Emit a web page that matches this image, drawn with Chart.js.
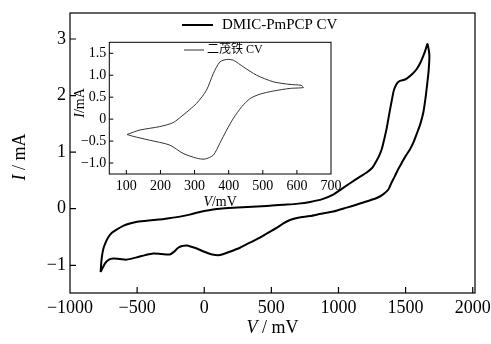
<!DOCTYPE html>
<html>
<head>
<meta charset="utf-8">
<script src="https://cdn.jsdelivr.net/npm/chart.js@4/dist/chart.umd.min.js"></script>
<style>
  body { margin: 0; background: #fff; }
  #wrap { position: relative; width: 491px; height: 344px; }
  #mainChart { position: absolute; left: 0; top: 0; }
  #insetChart { position: absolute; left: 60px; top: 32px; }
</style>
</head>
<body>
<div id="wrap">
  <canvas id="mainChart" width="491" height="344"></canvas>
  <canvas id="insetChart" width="285" height="180"></canvas>
</div>
<script>
// DMIC-PmPCP CV loop (V in mV, I in mA)
const mainV = [
  -772, -765, -753, -735, -716, -690, -653, -600, -554, -500, -380, -300, -181, -100, -57, 0, 117, 250, 465, 589,
  700, 788, 880, 961, 1011, 1086, 1150, 1210, 1250, 1272, 1300, 1322, 1340, 1359, 1380, 1396, 1410, 1421, 1440, 1458,
  1490, 1508, 1550, 1583, 1610, 1632, 1650, 1663, 1677, 1672, 1662, 1648, 1632, 1610, 1587, 1560, 1533, 1500, 1471, 1445,
  1421, 1395, 1372, 1330, 1285, 1185, 1061, 961, 870, 788, 700, 639, 590, 539, 480, 415, 340, 266, 190, 117,
  60, 0, -60, -131, -165, -194, -225, -256, -320, -380, -440, -504, -578, -630, -678, -710, -740, -772
];
const mainI = [
  -1.12, -0.90, -0.72, -0.60, -0.51, -0.43, -0.37, -0.30, -0.26, -0.23, -0.20, -0.18, -0.14, -0.10, -0.07, -0.04, 0.00, 0.02, 0.05, 0.07,
  0.09, 0.12, 0.17, 0.25, 0.33, 0.45, 0.55, 0.64, 0.72, 0.80, 0.92, 1.05, 1.22, 1.42, 1.70, 1.90, 2.07, 2.15, 2.23, 2.26,
  2.28, 2.30, 2.38, 2.47, 2.58, 2.70, 2.82, 2.91, 2.72, 2.45, 2.23, 1.95, 1.70, 1.50, 1.35, 1.18, 1.05, 0.93, 0.81, 0.70,
  0.58, 0.46, 0.34, 0.25, 0.19, 0.11, 0.02, -0.05, -0.09, -0.13, -0.16, -0.20, -0.26, -0.34, -0.42, -0.51, -0.60, -0.69, -0.76, -0.82,
  -0.81, -0.76, -0.70, -0.65, -0.66, -0.69, -0.76, -0.81, -0.80, -0.79, -0.82, -0.86, -0.90, -0.89, -0.88, -0.90, -0.97, -1.12
];

// ferrocene (二茂铁) CV loop for the inset
const insetV = [
  102, 139, 198, 237, 266, 306, 335, 355, 374, 394, 414, 443, 482, 531, 580, 612, 619,
  580, 531, 492, 463, 438, 414, 394, 374, 355, 330, 306, 266, 227, 168, 119, 102
];
const insetI = [
  -0.35, -0.25, -0.17, -0.08, 0.09, 0.36, 0.66, 1.04, 1.30, 1.36, 1.34, 1.19, 1.00, 0.85, 0.79, 0.77, 0.72,
  0.70, 0.64, 0.57, 0.47, 0.28, 0.02, -0.25, -0.55, -0.82, -0.91, -0.89, -0.78, -0.59, -0.48, -0.39, -0.35
];

const mainXTicks = [-1000, -500, 0, 500, 1000, 1500, 2000];
const mainYTicks = [-1, 0, 1, 2, 3];
const insetXTicks = [100, 200, 300, 400, 500, 600, 700];
const insetYTicks = [-1.0, -0.5, 0, 0.5, 1.0, 1.5];

const SERIF = '"Liberation Serif", "Noto Sans CJK SC", serif';

function toPoints(xs, ys) {
  return xs.map((x, i) => ({ x: x, y: ys[i] }));
}

function minus(s) {
  return String(s).replace('-', '\u2212');
}

// text made of pieces, some italic
function drawParts(ctx, parts, size) {
  let total = 0;
  parts.forEach(p => {
    ctx.font = (p.italic ? 'italic ' : '') + size + 'px ' + SERIF;
    total += ctx.measureText(p.text).width;
  });
  let x = -total / 2;
  parts.forEach(p => {
    ctx.font = (p.italic ? 'italic ' : '') + size + 'px ' + SERIF;
    ctx.fillText(p.text, x, 0);
    x += ctx.measureText(p.text).width;
  });
}

// frame, inward ticks, axis titles and legend
function decorPlugin(cfg) {
  return {
    id: 'decor',
    afterDraw(chart) {
      const ctx = chart.ctx;
      const a = chart.chartArea;
      const xs = chart.scales.x, ys = chart.scales.y;
      ctx.save();
      ctx.strokeStyle = '#000';
      ctx.lineWidth = cfg.frame;
      ctx.strokeRect(a.left, a.top, a.right - a.left, a.bottom - a.top);
      ctx.beginPath();
      cfg.xTicks.forEach(v => {
        const px = xs.getPixelForValue(v);
        if (px > a.left + 1 && px < a.right - 1) {
          ctx.moveTo(px, a.bottom);
          ctx.lineTo(px, a.bottom - cfg.tick);
        }
      });
      cfg.yTicks.forEach(v => {
        const py = ys.getPixelForValue(v);
        if (py > a.top + 1 && py < a.bottom - 1) {
          ctx.moveTo(a.left, py);
          ctx.lineTo(a.left + cfg.tick, py);
        }
      });
      ctx.stroke();

      ctx.fillStyle = '#000';
      ctx.textBaseline = 'middle';
      ctx.save();
      ctx.translate((a.left + a.right) / 2, cfg.xTitleY);
      drawParts(ctx, cfg.xTitle, cfg.titleSize);
      ctx.restore();
      ctx.save();
      ctx.translate(cfg.yTitleX, cfg.yTitleY);
      ctx.rotate(-Math.PI / 2);
      drawParts(ctx, cfg.yTitle, cfg.titleSize);
      ctx.restore();

      // legend
      const lg = cfg.legend;
      ctx.lineWidth = lg.width;
      ctx.strokeStyle = lg.color;
      ctx.beginPath();
      ctx.moveTo(lg.x0, lg.y);
      ctx.lineTo(lg.x1, lg.y);
      ctx.stroke();
      ctx.font = lg.size + 'px ' + SERIF;
      ctx.textAlign = 'left';
      ctx.fillStyle = '#000';
      ctx.fillText(lg.text, lg.tx, lg.y);
      ctx.restore();
    }
  };
}

function makeChart(id, opt) {
  return new Chart(document.getElementById(id), {
    type: 'scatter',
    data: {
      datasets: [{
        data: opt.points,
        showLine: true,
        borderColor: opt.color,
        borderWidth: opt.lineWidth,
        pointRadius: 0,
        tension: 0.25,
        fill: false
      }]
    },
    options: {
      responsive: false,
      animation: false,
      layout: { padding: opt.padding },
      plugins: { legend: { display: false }, tooltip: { enabled: false } },
      scales: {
        x: {
          type: 'linear',
          min: opt.xMin, max: opt.xMax,
          grid: { display: false, drawTicks: false },
          border: { display: false },
          afterFit: s => { s.height = opt.xHeight; s.paddingLeft = 0; s.paddingRight = 0; },
          afterBuildTicks: s => { s.ticks = opt.xTicks.map(v => ({ value: v })); },
          ticks: {
            padding: opt.xPad,
            color: '#000',
            maxRotation: 0,
            autoSkip: false,
            font: { family: SERIF, size: opt.tickSize },
            callback: v => minus(v)
          }
        },
        y: {
          type: 'linear',
          min: opt.yMin, max: opt.yMax,
          grid: { display: false, drawTicks: false },
          border: { display: false },
          afterFit: s => { s.width = opt.yWidth; s.paddingTop = 0; s.paddingBottom = 0; },
          afterBuildTicks: s => { s.ticks = opt.yTicks.map(v => ({ value: v })); },
          ticks: {
            padding: opt.yPad,
            color: '#000',
            autoSkip: false,
            font: { family: SERIF, size: opt.tickSize },
            callback: opt.yFormat
          }
        }
      }
    },
    plugins: [decorPlugin(opt.decor)]
  });
}

makeChart('mainChart', {
  points: toPoints(mainV, mainI),
  color: '#000', lineWidth: 2,
  padding: { left: 0, right: 16, top: 13, bottom: 0 },
  xMin: -1000, xMax: 2017, yMin: -1.49, yMax: 3.46,
  xTicks: mainXTicks, yTicks: mainYTicks,
  xHeight: 51, yWidth: 70, xPad: 4, yPad: 4, tickSize: 18,
  yFormat: v => minus(v),
  decor: {
    frame: 1.2, tick: 6,
    xTicks: mainXTicks, yTicks: mainYTicks,
    xTitle: [{ text: 'V', italic: true }, { text: ' / mV' }],
    yTitle: [{ text: 'I', italic: true }, { text: ' / mA' }],
    titleSize: 18, xTitleY: 328, yTitleX: 20, yTitleY: 157,
    legend: { x0: 182, x1: 213, y: 25, width: 2, color: '#000', text: 'DMIC-PmPCP CV', tx: 222, size: 15 }
  }
});

makeChart('insetChart', {
  points: toPoints(insetV, insetI),
  color: '#333', lineWidth: 1,
  padding: { left: 0, right: 14, top: 10.3, bottom: 0 },
  xMin: 50, xMax: 700, yMin: -1.25, yMax: 1.75,
  xTicks: insetXTicks, yTicks: insetYTicks,
  xHeight: 38, yWidth: 49.3, xPad: 4, yPad: 3, tickSize: 14,
  yFormat: v => (v === 0 ? '0' : minus(v.toFixed(1))),
  decor: {
    frame: 1, tick: 4,
    xTicks: insetXTicks, yTicks: insetYTicks,
    xTitle: [{ text: 'V', italic: true }, { text: '/mV' }],
    yTitle: [{ text: 'I', italic: true }, { text: '/mA' }],
    titleSize: 14, xTitleY: 170, yTitleX: 20, yTitleY: 71,
    legend: { x0: 124, x1: 144, y: 18, width: 1, color: '#333', text: '二茂铁 CV', tx: 147, size: 12 }
  }
});
</script>
</body>
</html>
